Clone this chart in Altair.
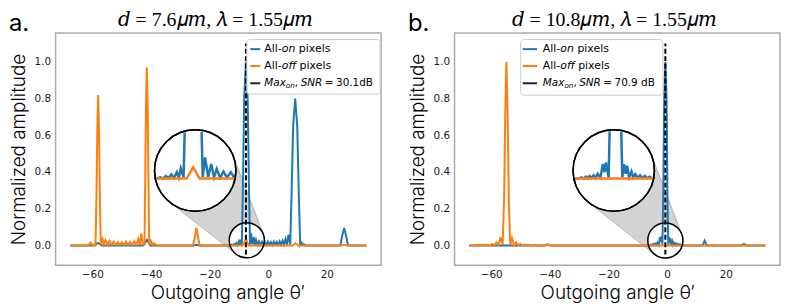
import altair as alt
import numpy as np
import pandas as pd

# ---------------- values ----------------
A_ON_X = [-67.5, -59.2, -58.0, -56.8, -42.6, -41.4, -40.2, -25.5, -24.5, -23.5,
          -13.0, -12.4, -12.0, -11.6, -11.2, -10.8, -10.4, -10.0, -9.7, -9.4,
          -9.0, -8.6, -8.2, -7.6, -7.0, -6.6, -6.2, -5.85, -5.4, -4.95,
          -4.55, -4.15, -3.65, -3.15, -2.65, -2.1, -1.6, -1.1, -0.6, -0.1,
          0.4, 0.9, 1.4, 1.9, 2.4, 2.9, 3.4, 3.9, 4.4, 4.9,
          5.4, 5.9, 6.4, 6.9, 7.5, 8.0, 8.5, 9.2, 9.9, 10.4,
          10.9, 11.3, 11.7, 12.1, 12.6, 24.6, 25.2, 25.9, 26.6, 27.2, 33.5]
A_ON_Y = [0.0, 0.0, 0.013, 0.0, 0.0, 0.03, 0.0, 0.0, 0.004, 0.0,
          0.0, 0.004, 0.0, 0.008, 0.001, 0.013, 0.002, 0.02, 0.003, 0.032,
          0.004, 0.35, 0.8, 1.0, 0.8, 0.35, 0.004, 0.066, 0.005, 0.045,
          0.004, 0.03, 0.003, 0.022, 0.003, 0.02, 0.003, 0.018, 0.002, 0.02,
          0.003, 0.018, 0.002, 0.02, 0.003, 0.02, 0.003, 0.022, 0.003, 0.026,
          0.004, 0.035, 0.005, 0.058, 0.004, 0.3, 0.65, 0.8, 0.65, 0.3,
          0.004, 0.015, 0.002, 0.007, 0.0, 0.0, 0.05, 0.095, 0.05, 0.0, 0.0]

A_OFF_X = [-67.5, -61.3, -60.6, -59.9, -59.4, -58.9, -58.55, -58.3, -58.0, -57.7,
           -57.45, -57.1, -56.6, -56.1, -55.5, -54.8, -54.1, -53.4, -52.7, -52.0,
           -51.3, -50.6, -49.9, -49.2, -48.5, -47.8, -47.1, -46.4, -45.7, -45.0,
           -44.3, -43.8, -43.3, -42.8, -42.2, -41.95, -41.7, -41.4, -41.1, -40.85,
           -40.6, -40.0, -39.4, -38.8, -38.2, -25.6, -25.0, -24.5, -24.0, -23.4,
           -8.55, -7.6, -6.65, 8.3, 9.3, 10.3, 25.2, 25.9, 26.6, 33.5]
A_OFF_Y = [0.0, 0.0, 0.015, 0.001, 0.006, 0.002, 0.3, 0.62, 0.82, 0.62,
           0.3, 0.003, 0.045, 0.004, 0.03, 0.003, 0.024, 0.002, 0.02, 0.002,
           0.018, 0.002, 0.018, 0.002, 0.02, 0.002, 0.02, 0.003, 0.024, 0.003,
           0.035, 0.005, 0.065, 0.005, 0.004, 0.35, 0.75, 0.97, 0.75, 0.35,
           0.004, 0.025, 0.002, 0.012, 0.0, 0.0, 0.05, 0.095, 0.05, 0.0,
           0.0, 0.035, 0.0, 0.0, 0.012, 0.0, 0.0, 0.004, 0.0, 0.0]

B_ON_X = [-67.5, -41.6, -40.8, -40.0, -6.0, -5.6, -5.25, -4.9, -4.65, -4.4,
          -4.1, -3.8, -3.5, -3.2, -2.8, -2.45, -2.2, -2.0, -1.6, -1.3,
          -1.0, -0.6, -0.2, 0.1, 0.4, 0.65, 0.9, 1.1, 1.4, 1.75,
          2.0, 2.3, 2.65, 3.0, 3.35, 3.7, 4.05, 4.4, 4.8, 5.3,
          5.8, 12.1, 12.8, 13.5, 25.5, 26.2, 26.9, 33.5]
B_ON_Y = [0.0, 0.0, 0.005, 0.0, 0.0, 0.004, 0.0, 0.006, 0.001, 0.008,
          0.002, 0.01, 0.002, 0.015, 0.003, 0.045, 0.02, 0.05, 0.004, 0.3,
          0.8, 1.0, 0.8, 0.3, 0.004, 0.045, 0.015, 0.04, 0.004, 0.022,
          0.003, 0.014, 0.002, 0.01, 0.002, 0.008, 0.001, 0.006, 0.0, 0.004,
          0.0, 0.0, 0.026, 0.0, 0.0, 0.008, 0.0, 0.0]

B_OFF_X = [-67.5, -66.0, -65.3, -64.6, -63.9, -63.2, -62.5, -61.8, -61.1, -60.4,
           -59.6, -58.9, -58.2, -57.5, -56.8, -56.1, -55.6, -55.2, -54.8, -54.4,
           -54.0, -53.5, -52.9, -52.2, -51.5, -50.8, -50.1, -49.4, -48.7, -48.0,
           -47.3, -46.6, -41.6, -40.8, -40.0, 33.5]
B_OFF_Y = [0.0, 0.0, 0.003, 0.0, 0.003, 0.0, 0.003, 0.0, 0.004, 0.0,
           0.008, 0.0, 0.016, 0.001, 0.045, 0.002, 0.25, 0.72, 1.0, 0.72,
           0.25, 0.002, 0.04, 0.001, 0.017, 0.0, 0.008, 0.0, 0.004, 0.0,
           0.003, 0.0, 0.0, 0.006, 0.0, 0.0]

X_TICKS = [-60, -40, -20, 0, 20]
Y_TICKS = [0.0, 0.2, 0.4, 0.6, 0.8, 1.0]
PANEL_LABELS = ["a.", "b."]
PANEL_TITLES = ["\U0001d451 = 7.6\U0001d707\U0001d45a, \U0001d706 = 1.55\U0001d707\U0001d45a",
                "\U0001d451 = 10.8\U0001d707\U0001d45a, \U0001d706 = 1.55\U0001d707\U0001d45a"]
MAX_ON_ANGLE = [-7.6, -0.6]
MAX_LINE_RANGE = [-0.05, 1.1]
SNR_TEXT = ["30.1dB", "70.9 dB"]
X_TITLE = "Outgoing angle \u03b8\u2032"
Y_TITLE = "Normalized amplitude"

# ---------------- layout and style ----------------
W, H = 328, 234
SPACING = 25
XDOM = [-72.5, 38.5]
YDOM = [-0.1075, 1.1575]
SX = W / (XDOM[1] - XDOM[0])
SY = H / (YDOM[1] - YDOM[0])
BLUE, ORANGE = "#1f77b4", "#ff7f0e"
R_BIG, R_SMALL = 41.0, 17.7
MX, MY = 2.33, 1.75
INSETS = [
    {"small": (-7.3, 0.028), "big": (-24.9, 0.408), "view": (-7.3, 0.025)},
    {"small": (-0.6, 0.027), "big": (-18.2, 0.408), "view": (-0.85, 0.025)},
]
LEGENDS = [
    {"box": (W - 135.3, W - 1.0, 6.7, 61.7), "line": (3.5, 13.5), "text": 17.6},
    {"box": (66.7, 210.0, 6.7, 62.7), "line": (2.0, 16.5), "text": 22.3},
]
XTITLE_SHIFT = [9, 0]
ROW_Y = [16.3, 33.3, 50.7]
LEG_FS = 11
MATH_FS = 10.5

# DejaVu Sans advance widths (units per 2048 em)
DV = {" ": 651, ",": 651, "-": 739, ".": 651, "=": 1716, "A": 1401, "B": 1405,
      "M": 1767, "N": 1532, "R": 1423, "S": 1300, "a": 1255, "d": 1300, "e": 1260,
      "f": 721, "i": 569, "l": 569, "n": 1298, "o": 1253, "p": 1300, "s": 1067,
      "x": 1212}
for c in "0123456789":
    DV[c] = 1303


def text_w(s, size):
    return sum(DV.get(c, 1250) for c in s) / 2048.0 * size


def hull_band(c1, r1, c2, r2):
    pts = []
    t = np.linspace(0, 2 * np.pi, 721)
    for (cu, cv), r in ((c1, r1), (c2, r2)):
        pts += list(zip(cu + r * np.cos(t), cv + r * np.sin(t)))
    pts = sorted(set(pts))

    def cross(o, a, b):
        return (a[0] - o[0]) * (b[1] - o[1]) - (a[1] - o[1]) * (b[0] - o[0])

    lower = []
    for p in pts:
        while len(lower) >= 2 and cross(lower[-2], lower[-1], p) <= 0:
            lower.pop()
        lower.append(p)
    upper = []
    for p in reversed(pts):
        while len(upper) >= 2 and cross(upper[-2], upper[-1], p) <= 0:
            upper.pop()
        upper.append(p)
    upper = upper[::-1]
    u = np.linspace(pts[0][0], pts[-1][0], 300)
    lo = np.interp(u, [p[0] for p in lower], [p[1] for p in lower])
    hi = np.interp(u, [p[0] for p in upper], [p[1] for p in upper])
    return u, lo, hi


def clip_polyline(U, V, R):
    runs, cur = [], []
    for i in range(len(U) - 1):
        x0, y0, x1, y1 = U[i], V[i], U[i + 1], V[i + 1]
        dx, dy = x1 - x0, y1 - y0
        a = dx * dx + dy * dy
        if a == 0:
            continue
        b = 2 * (x0 * dx + y0 * dy)
        c = x0 * x0 + y0 * y0 - R * R
        disc = b * b - 4 * a * c
        if disc <= 0:
            if cur:
                runs.append(cur)
                cur = []
            continue
        s = disc ** 0.5
        t1, t2 = (-b - s) / (2 * a), (-b + s) / (2 * a)
        ts, te = max(0.0, t1), min(1.0, t2)
        if ts >= te:
            if cur:
                runs.append(cur)
                cur = []
            continue
        ps = (x0 + ts * dx, y0 + ts * dy)
        pe = (x0 + te * dx, y0 + te * dy)
        if cur and ts == 0.0:
            cur.append(pe)
        else:
            if cur:
                runs.append(cur)
            cur = [ps, pe]
        if te < 1.0:
            runs.append(cur)
            cur = []
    if cur:
        runs.append(cur)
    return runs


def inset_frame(xs, ys, ins):
    vx, vy = ins["view"]
    bx, by = ins["big"]
    U = [(x - vx) * SX * MX for x in xs]
    V = [(y - vy) * SY * MY for y in ys]
    rows = []
    for sid, run in enumerate(clip_polyline(U, V, R_BIG - 1.3)):
        for j, (u, v) in enumerate(run):
            rows.append({"x": bx + u / SX, "y": by + v / SY, "seg": sid, "i": j})
    return pd.DataFrame(rows)


def panel(k, on_x, on_y, off_x, off_y):
    xs = alt.Scale(domain=XDOM, nice=False, zero=False)
    ys = alt.Scale(domain=YDOM, nice=False, zero=False)
    X = alt.X("x:Q", scale=xs, axis=alt.Axis(values=X_TICKS, title=X_TITLE, format="d",
                                             titleX=W / 2 + XTITLE_SHIFT[k]))
    Y = alt.Y("y:Q", scale=ys, axis=alt.Axis(values=Y_TICKS, title=Y_TITLE, format=".1f"))
    ins = INSETS[k]
    one = pd.DataFrame({"k": [0]})

    # cone between the two circles
    sb, bb = ins["small"], ins["big"]
    u, lo, hi = hull_band((bb[0] * SX, bb[1] * SY), R_BIG, (sb[0] * SX, sb[1] * SY), R_SMALL)
    cone_df = pd.DataFrame({"x": u / SX, "y": lo / SY, "y2": hi / SY})
    cone = alt.Chart(cone_df).mark_area(orient="vertical", color="#d3d3d3", opacity=1,
                                        stroke="#a9a9a9", strokeWidth=1).encode(
        x=X, y=Y, y2=alt.Y2("y2"))

    small_df = pd.DataFrame({"x": [sb[0]], "y": [sb[1]]})
    big_df = pd.DataFrame({"x": [bb[0]], "y": [bb[1]]})
    s_small = (2 * R_SMALL) ** 2
    s_big = (2 * R_BIG) ** 2
    small_fill = alt.Chart(small_df).mark_point(shape="circle", size=s_small, fill="white",
                                                 stroke="white", strokeWidth=0.5, opacity=1,
                                                 fillOpacity=1).encode(x=X, y=Y)
    small_ring = alt.Chart(small_df).mark_point(shape="circle", size=s_small, filled=False,
                                                 stroke="black", strokeWidth=1.5, opacity=1).encode(x=X, y=Y)
    big_fill = alt.Chart(big_df).mark_point(shape="circle", size=s_big, fill="white",
                                             stroke="black", strokeWidth=1.5, opacity=1,
                                             fillOpacity=1).encode(x=X, y=Y)
    big_ring = alt.Chart(big_df).mark_point(shape="circle", size=s_big, filled=False,
                                             stroke="black", strokeWidth=1.5, opacity=1).encode(x=X, y=Y)

    on_df = pd.DataFrame({"x": on_x, "y": on_y, "i": range(len(on_x))})
    off_df = pd.DataFrame({"x": off_x, "y": off_y, "i": range(len(off_x))})
    on_line = alt.Chart(on_df).mark_line(color=BLUE, strokeWidth=2).encode(
        x=X, y=Y, order=alt.Order("i:Q"))
    off_line = alt.Chart(off_df).mark_line(color=ORANGE, strokeWidth=2).encode(
        x=X, y=Y, order=alt.Order("i:Q"))

    dash_df = pd.DataFrame({"x": [MAX_ON_ANGLE[k]], "y": [MAX_LINE_RANGE[0]], "y2": [MAX_LINE_RANGE[1]]})
    dash = alt.Chart(dash_df).mark_rule(color="black", strokeWidth=2, strokeDash=[5, 2.5]).encode(
        x=X, y=Y, y2=alt.Y2("y2"))

    in_on = alt.Chart(inset_frame(on_x, on_y, ins)).mark_line(color=BLUE, strokeWidth=2.5).encode(
        x=X, y=Y, detail="seg:N", order=alt.Order("i:Q"))
    in_off = alt.Chart(inset_frame(off_x, off_y, ins)).mark_line(color=ORANGE, strokeWidth=2.5).encode(
        x=X, y=Y, detail="seg:N", order=alt.Order("i:Q"))

    # legend drawn by hand (to keep italics); pieces: text, style, size, dy, gap before
    lg = LEGENDS[k]
    x0, x1, y0, y1 = lg["box"]
    legend = [alt.Chart(one).mark_rect(fill="white", fillOpacity=0.85, stroke="#cccccc",
                                       strokeWidth=1, cornerRadius=3).encode(
        x=alt.value(x0), x2=alt.value(x1), y=alt.value(y0), y2=alt.value(y1))]
    sp = text_w(" ", LEG_FS)
    rows = [
        (BLUE, [("All-", "normal", LEG_FS, 0, 0), ("on", "italic", LEG_FS, 0, 0),
                ("pixels", "normal", LEG_FS, 0, sp)]),
        (ORANGE, [("All-", "normal", LEG_FS, 0, 0), ("off", "italic", LEG_FS, 0, 0),
                  ("pixels", "normal", LEG_FS, 0, sp)]),
        ("#222222", [("Max", "italic", MATH_FS, 0, 0), ("on", "italic", 7.3, 3, 0),
                     (",", "normal", MATH_FS, 0, 0), ("SNR", "italic", MATH_FS, 0, 2.5),
                     ("=", "normal", MATH_FS, 0, 2.5), (SNR_TEXT[k], "normal", MATH_FS, 0, 2.5)]),
    ]
    for ry, (col, pieces) in zip(ROW_Y, rows):
        legend.append(alt.Chart(one).mark_rule(color=col, strokeWidth=2).encode(
            x=alt.value(x0 + lg["line"][0]), x2=alt.value(x0 + lg["line"][1]), y=alt.value(ry)))
        px = x0 + lg["text"]
        for s, style, fs, dy, gap in pieces:
            px += gap
            legend.append(alt.Chart(one).mark_text(align="left", baseline="middle", font="DejaVu Sans",
                                                   fontSize=fs, fontStyle=style, color="black").encode(
                x=alt.value(px), y=alt.value(ry + dy), text=alt.value(s)))
            px += text_w(s, fs)

    title = alt.Chart(one).mark_text(align="center", baseline="alphabetic",
                                     font="Liberation Serif, DejaVu Serif",
                                     fontSize=20, color="black").encode(
        x=alt.value(W / 2 - 3), y=alt.value(-7), text=alt.value(PANEL_TITLES[k]))
    label = alt.Chart(one).mark_text(align="left", baseline="alphabetic", font="Inter",
                                     fontSize=24, color="black").encode(
        x=alt.value(-47), y=alt.value(-2), text=alt.value(PANEL_LABELS[k]))

    layers = [cone, small_fill, on_line, off_line, dash, small_ring, big_fill, in_on, in_off,
              big_ring] + legend + [title, label]
    return alt.layer(*layers).properties(width=W, height=H)


pa = panel(0, A_ON_X, A_ON_Y, A_OFF_X, A_OFF_Y)
pb = panel(1, B_ON_X, B_ON_Y, B_OFF_X, B_OFF_Y)

chart = alt.hconcat(pa, pb, spacing=SPACING).properties(padding=0).configure(
    background="white"
).configure_view(
    stroke="#aaaaaa", strokeWidth=1.5
).configure_axis(
    grid=False, ticks=False, domain=False, labelFont="DejaVu Sans", labelFontSize=10.5,
    labelColor="#1a1a1a", titleFont="Inter", titleFontSize=19, titleFontWeight=300,
    titleColor="black"
).configure_axisX(labelPadding=4, titlePadding=4).configure_axisY(labelPadding=5, titlePadding=6)

chart.save("out.html", embed_options={"renderer": "svg", "actions": False})
